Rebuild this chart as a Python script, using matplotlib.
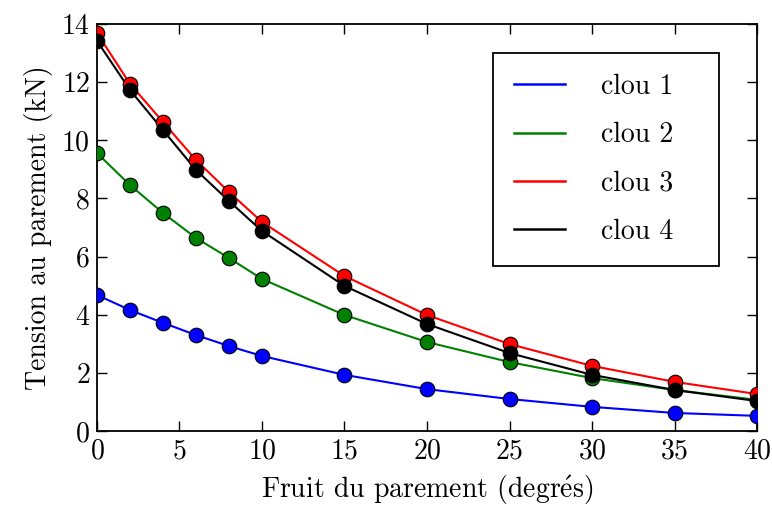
import matplotlib
matplotlib.use("Agg")
import matplotlib.pyplot as plt

plt.rcParams['font.family'] = 'serif'
plt.rcParams['font.serif'] = ['cmr10', 'DejaVu Serif']
plt.rcParams['mathtext.fontset'] = 'cm'
plt.rcParams['axes.formatter.use_mathtext'] = True

fruit = [0, 2, 4, 6, 8, 10, 15, 20, 25, 30, 35, 40]
clou1 = [4.68, 4.16, 3.72, 3.30, 2.92, 2.58, 1.93, 1.44, 1.10, 0.83, 0.62, 0.52]
clou2 = [9.56, 8.46, 7.50, 6.64, 5.95, 5.23, 3.99, 3.06, 2.37, 1.82, 1.41, 1.07]
clou3 = [13.69, 11.94, 10.63, 9.32, 8.22, 7.19, 5.33, 3.99, 2.99, 2.24, 1.69, 1.27]
clou4 = [13.42, 11.73, 10.35, 8.98, 7.91, 6.88, 4.99, 3.68, 2.68, 1.93, 1.41, 1.03]

series = [("clou 1", clou1, "blue"), ("clou 2", clou2, "green"),
          ("clou 3", clou3, "red"), ("clou 4", clou4, "black")]

fig = plt.figure(figsize=(7.72, 5.08), dpi=100)
ax = fig.add_axes([0.1256, 0.1516, 0.855, 0.8012])

for label, vals, color in series:
    ax.plot(fruit, vals, color=color, lw=1.5, label=label, zorder=2)
    ax.plot(fruit, vals, ls='none', marker='o', ms=10.5, mfc=color, mec='black',
            mew=0.8, zorder=3)

ax.set_xlim(0, 40)
ax.set_ylim(0, 14)
ax.set_xticks([0, 5, 10, 15, 20, 25, 30, 35, 40])
ax.set_yticks([0, 2, 4, 6, 8, 10, 12, 14])
ax.tick_params(direction='in', top=True, right=True, length=7, width=1,
               labelsize=20, pad=5)
for s in ax.spines.values():
    s.set_linewidth(1.3)

ax.set_xlabel(r"Fruit du parement (degr$\acute{\rm e}$s)", fontsize=20, labelpad=6)
ax.set_ylabel("Tension au parement (kN)", fontsize=20, labelpad=6)

leg = ax.legend(loc='upper left', bbox_to_anchor=(0.6, 0.0, 0.342, 0.929),
                mode='expand', borderaxespad=0, fontsize=20, labelspacing=0.79,
                handlelength=1.85, handletextpad=1.3, borderpad=0.75,
                fancybox=False, framealpha=1, edgecolor='black')
leg.get_frame().set_linewidth(1.3)
for line in leg.get_lines():
    line.set_linewidth(1.8)

fig.savefig("out.png", dpi=100)
